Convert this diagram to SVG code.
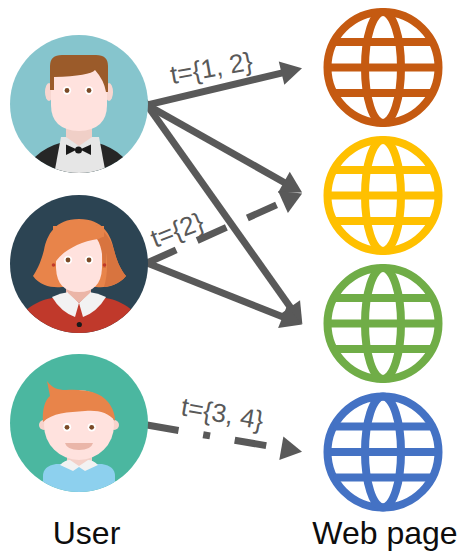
<svg xmlns="http://www.w3.org/2000/svg" xmlns:xlink="http://www.w3.org/1999/xlink" width="464" height="552" viewBox="0 0 464 552">
  <style>
    .edge { fill: none; stroke: #595959; stroke-width: 7; stroke-linecap: butt; marker-end: url(#head); }
    .dash { stroke-dasharray: 32 23; }
    .dashdot { stroke-dasharray: 32 25 7 25; }
    .elabel { font-family: "Liberation Sans", Arial, sans-serif; font-size: 26px; fill: #595959; }
    .title { font-family: "Liberation Sans", Arial, sans-serif; font-size: 32px; fill: #0d0d0d; text-anchor: middle; }
    .skin { fill: #ffe2de; }
    .eyewhite { fill: #ffffff; }
    .pupil { fill: #7a4a26; }
  </style>
  <defs>
    <marker id="head" markerUnits="userSpaceOnUse" markerWidth="30" markerHeight="30" viewBox="0 -15 30 30" refX="2" refY="0" orient="auto" overflow="visible">
      <path d="M0,-12 L21,0 L0,12 Z" fill="#595959"/>
    </marker>
    <g id="globe" fill="none" stroke="currentColor" stroke-width="8">
      <circle r="55.5"/>
      <ellipse rx="18" ry="55.5"/>
      <path d="M-49.3,-25.5 H49.3 M-55.5,0 H55.5 M-49.3,25.5 H49.3"/>
    </g>
    <clipPath id="clipA"><circle cx="79" cy="104" r="69"/></clipPath>
    <clipPath id="clipB"><circle cx="79" cy="264" r="69"/></clipPath>
    <clipPath id="clipC"><circle cx="79" cy="423" r="69"/></clipPath>
  </defs>

  <!-- connectors -->
  <g id="connectors">
    <path class="edge" d="M139.2,106.8 L283.5,72.6"/>
    <path class="edge" d="M140,101.1 L285.6,183.2"/>
    <path class="edge" d="M142.4,98.5 L291.4,308.7"/>
    <path class="edge" d="M139.6,260 L284.4,317.6"/>
    <path class="edge dash" d="M147,263 L284.8,201.2"/>
    <path class="edge dashdot" d="M147,425 L283.3,448.6"/>
    <text class="elabel" transform="translate(172,84) rotate(-10)">t={1, 2}</text>
    <text class="elabel" transform="translate(155,248) rotate(-21)">t={2}</text>
    <text class="elabel" transform="translate(180,415) rotate(10)">t={3, 4}</text>
  </g>

  <!-- user 1: man with bow tie -->
  <g id="user1">
    <circle cx="79" cy="104" r="69" fill="#86c5cd"/>
    <g clip-path="url(#clipA)">
      <path d="M28,180 L35,157 Q45,147 63,142 L95,142 Q113,147 123,157 L130,180 Z" fill="#262626"/>
      <path d="M61,137 L99,137 L107,180 L53,180 Z" fill="#e6e6e6"/>
      <path d="M66,118 L92,118 L92,137 L79,146 L66,137 Z" fill="#f0cfc7"/>
      <path d="M66,144.5 L77,149.5 L66,155 Z M91,144.5 L80,149.5 L91,155 Z" fill="#1a1a1a"/>
      <circle cx="78.5" cy="150" r="3.5" fill="#1a1a1a"/>
    </g>
    <ellipse cx="49" cy="92" rx="4" ry="9" fill="#f7d6d0"/>
    <ellipse cx="109" cy="92" rx="4" ry="9" fill="#f7d6d0"/>
    <path class="skin" d="M51,70 L51,105 Q51,130 79,131 Q107,130 107,105 L107,70 Z"/>
    <path d="M50,90 L50,66 Q50,55 62,55 L96,55 Q108,55 108,66 L108,92 L106,92 Q104,80 95,70 Q90,76 54,77 L54,90 Z" fill="#9b5b2a"/>
    <circle class="eyewhite" cx="67" cy="90.5" r="4.2"/>
    <circle class="eyewhite" cx="89" cy="90.5" r="4.2"/>
    <circle class="pupil" cx="67" cy="90.5" r="2.4"/>
    <circle class="pupil" cx="89" cy="90.5" r="2.4"/>
  </g>

  <!-- user 2: woman with bob hair -->
  <g id="user2">
    <circle cx="79" cy="264" r="69" fill="#2c4453"/>
    <path d="M79,219 C55,219 47,235 44,250 C41,262 37,270 33,276 C40,286 52,288 62,287 L96,287 C106,288 118,286 126,276 C121,270 117,262 114,250 C111,235 103,219 79,219 Z" fill="#e8844a"/>
    <path d="M96,225 C106,232 111,240 114,250 C117,262 121,270 126,276 C120,283 112,286 104,287 C110,268 107,240 96,225 Z" fill="#d8743f"/>
    <g clip-path="url(#clipB)">
      <path d="M66,280 L91,280 L91,300 L66,300 Z" fill="#ebb5a7"/>
      <path d="M16,322 C27,304 45,298 60,297 L98,297 C113,298 131,304 142,322 L142,340 L16,340 Z" fill="#c0392b"/>
      <path d="M52,297 Q60,293 69,292 L79,303 L75,317 Q61,312 52,297 Z" fill="#f2f2f2"/>
      <path d="M106,297 Q98,293 89,292 L79,303 L83,317 Q97,312 106,297 Z" fill="#f2f2f2"/>
      <path d="M68,286 L90,286 L90,293 L79,303 L68,293 Z" fill="#ebb5a7"/>
      <circle cx="79.3" cy="324.5" r="2.6" fill="#1a1a1a"/>
    </g>
    <path class="skin" d="M56,245 L56,268 Q57,292 79,292 Q101,292 102,268 L102,245 Q102,235 92,235 L66,235 Q56,235 56,245 Z"/>
    <path d="M53,266 C60,252 78,242 98,239 L104,237 L104,226 L53,226 Z" fill="#e8844a"/>
    <path d="M97,239 C101,245 103,255 103,268 L106,268 L106,236 Z" fill="#d8743f"/>
    <circle cx="53.5" cy="265" r="1.8" fill="#c0392b"/>
    <circle cx="104.5" cy="265" r="1.8" fill="#c0392b"/>
    <circle class="eyewhite" cx="68" cy="260" r="4.2"/>
    <circle class="eyewhite" cx="89" cy="260" r="4.2"/>
    <circle class="pupil" cx="68" cy="260" r="2.4"/>
    <circle class="pupil" cx="89" cy="260" r="2.4"/>
  </g>

  <!-- user 3: boy with quiff -->
  <g id="user3">
    <circle cx="79" cy="423" r="69" fill="#4bb7a0"/>
    <g clip-path="url(#clipC)">
      <path d="M43,500 L43,476 Q43,466 56,464 L102,464 Q115,466 115,476 L115,500 Z" fill="#8dd0ee"/>
      <path d="M67,450 L92,450 L92,467 L67,467 Z" fill="#f3d0c8"/>
      <path d="M60,465 Q65,460 70,460 L79,466 L88,460 Q93,460 98,465 L85,471 L79,467 L73,471 Z" fill="#f2f2f2"/>
    </g>
    <circle cx="44" cy="425" r="5" fill="#f7d3cc"/>
    <circle cx="114" cy="425" r="5" fill="#f7d3cc"/>
    <circle class="skin" cx="79" cy="425" r="35"/>
    <path d="M43,422 C42,410 45,400 50,396 L47,381 C52,388 58,390 66,390 C85,389 100,392 108,402 C113,408 115,415 115,421 C108,412 98,410 85,411 C68,412 52,413 43,422 Z" fill="#e8844a"/>
    <circle class="eyewhite" cx="67" cy="427.3" r="4.2"/>
    <circle class="eyewhite" cx="91.7" cy="427.3" r="4.2"/>
    <circle class="pupil" cx="67" cy="427.3" r="2.4"/>
    <circle class="pupil" cx="91.7" cy="427.3" r="2.4"/>
    <path d="M65,443 L93,443 Q91,450 79,450 Q67,450 65,443 Z" fill="#eab6a9"/>
  </g>

  <!-- web pages -->
  <g id="page1"><use xlink:href="#globe" x="383" y="67.5" style="color:#c55a11"/></g>
  <g id="page2"><use xlink:href="#globe" x="383" y="195.5" style="color:#ffc000"/></g>
  <g id="page3"><use xlink:href="#globe" x="383" y="323.5" style="color:#70ad47"/></g>
  <g id="page4"><use xlink:href="#globe" x="383" y="452" style="color:#4472c4"/></g>

  <!-- column titles -->
  <text class="title" x="86.5" y="544">User</text>
  <text class="title" x="385" y="544">Web page</text>
</svg>
